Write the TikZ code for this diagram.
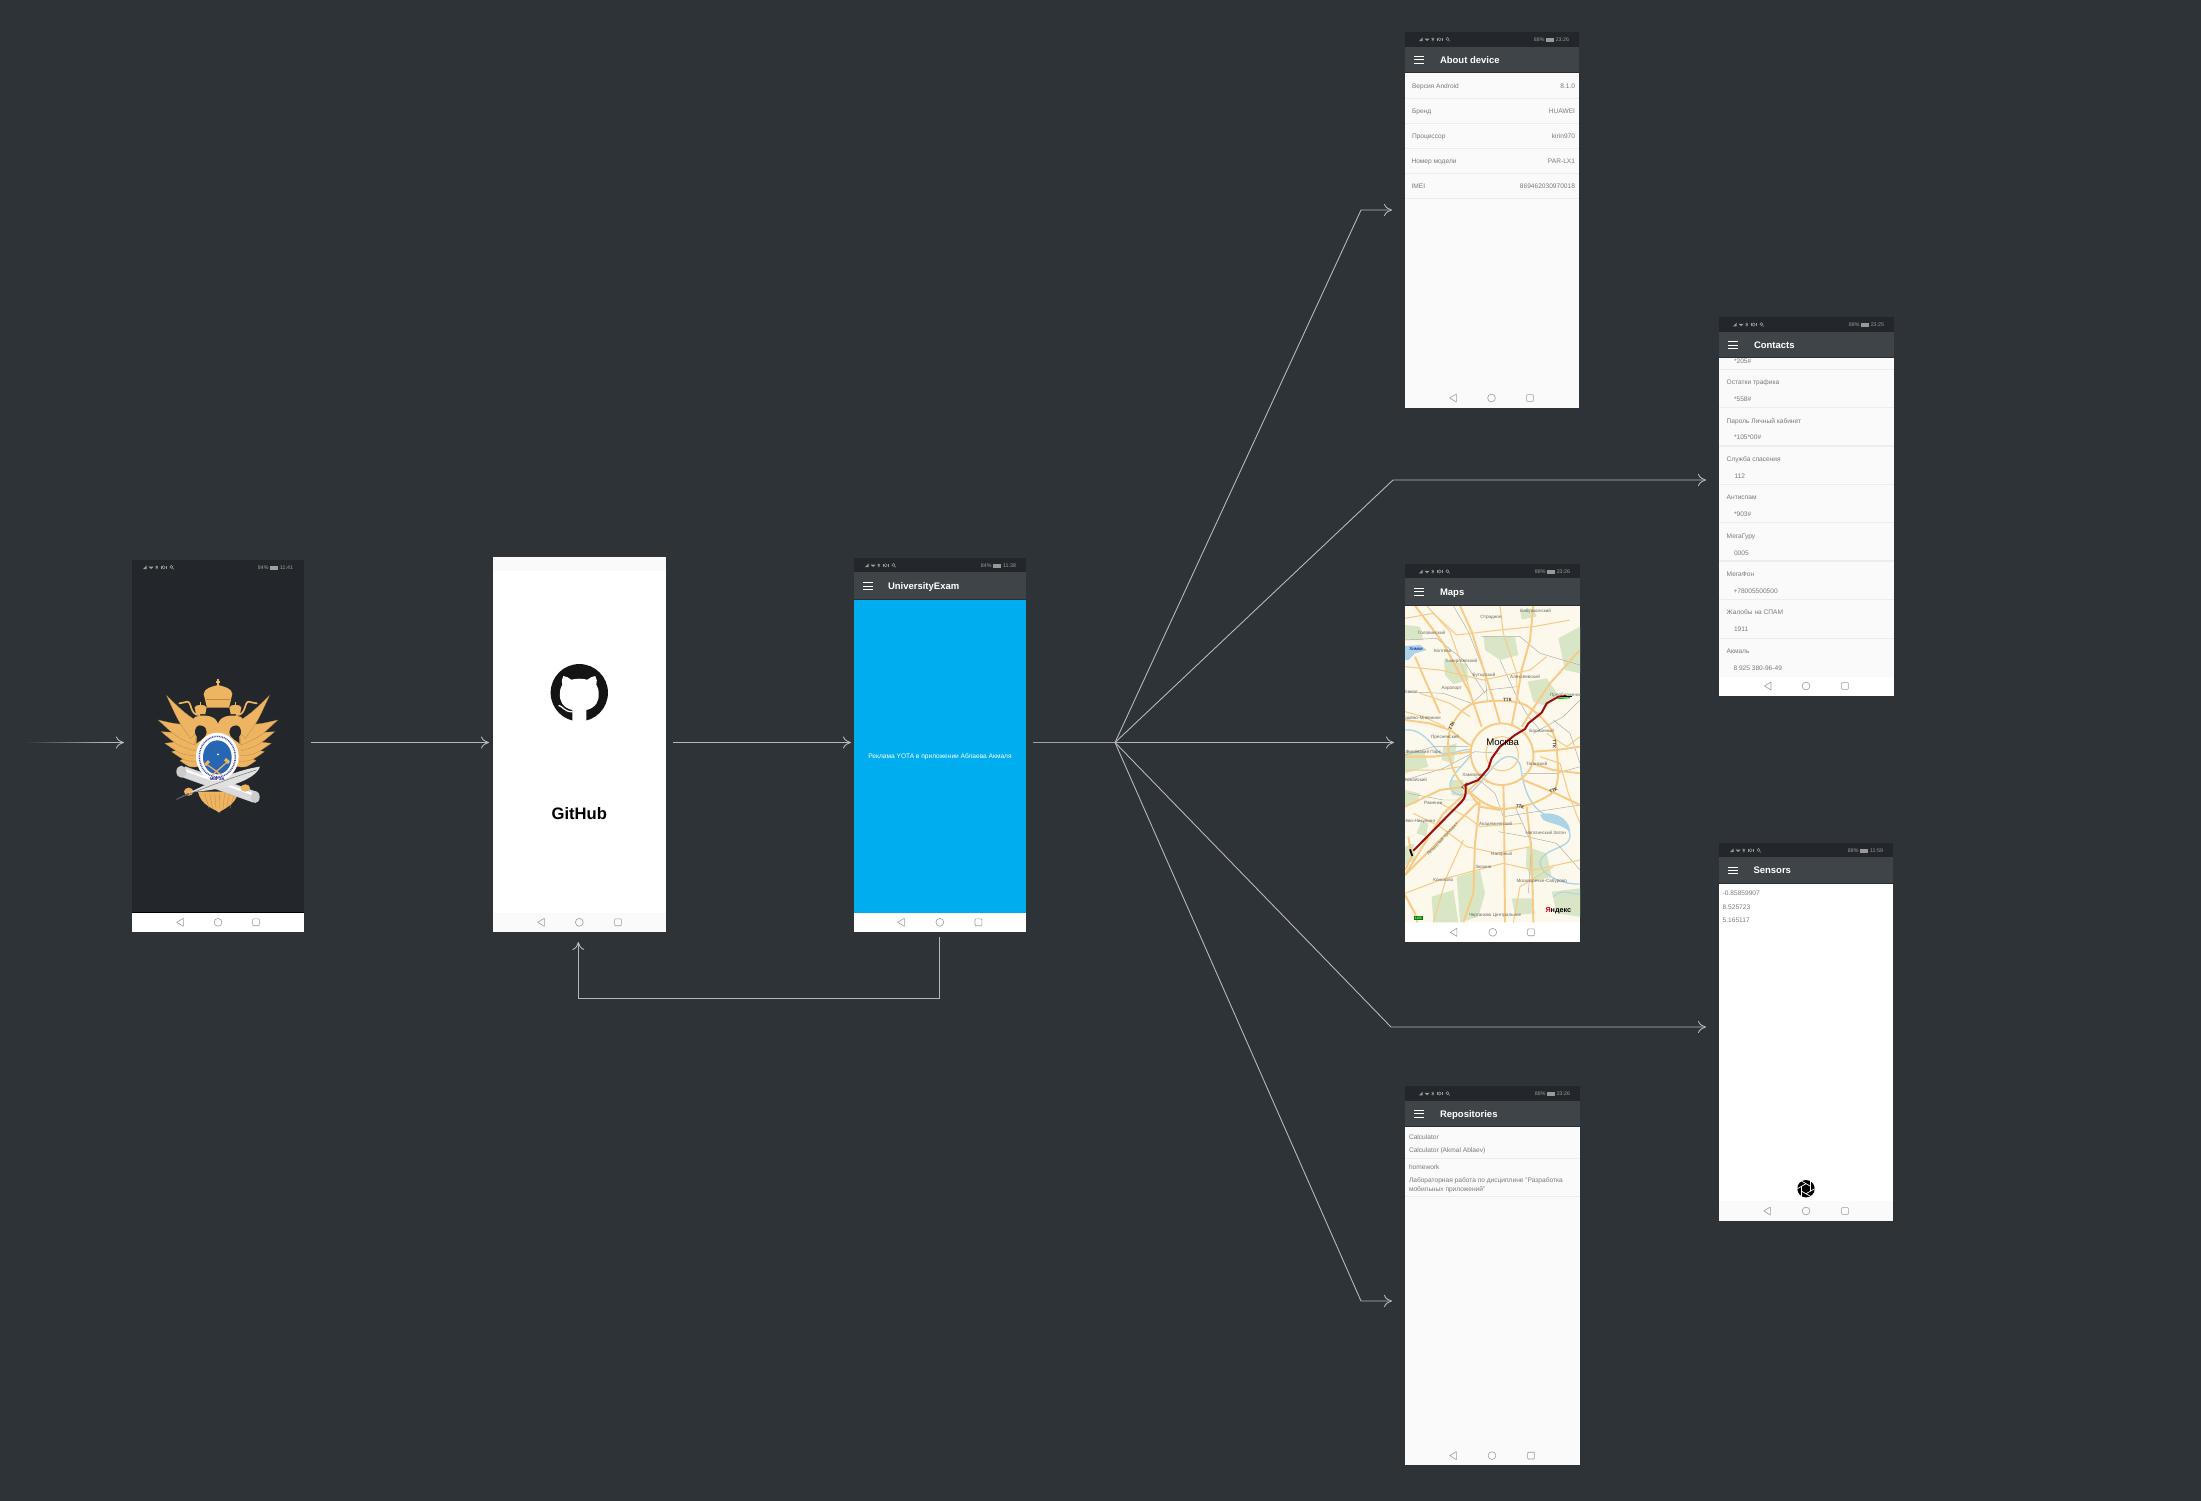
\documentclass[tikz,border=0pt]{standalone}
\usepackage{fontspec}
\setmainfont{Liberation Sans}
\usetikzlibrary{arrows.meta,calc}
\definecolor{bgc}{HTML}{2E3338}
\definecolor{linec}{HTML}{B4B8BA}
\definecolor{statc}{HTML}{23272B}
\definecolor{headc}{HTML}{3F4448}
\definecolor{headl}{HTML}{2A2E31}
\definecolor{txtc}{HTML}{7A7A7A}
\definecolor{sepc}{HTML}{EDEDED}
\definecolor{navc}{HTML}{9C9C9C}
\definecolor{pagec}{HTML}{FAFAFA}
\definecolor{bluec}{HTML}{00ADEE}
\definecolor{goldc}{HTML}{EDB562}
\definecolor{goldd}{HTML}{B98A45}
\definecolor{mapbg}{HTML}{FCF8EB}
\definecolor{mapgr}{HTML}{D9E6C6}
\definecolor{mapwa}{HTML}{ABD5E6}
\definecolor{maprd}{HTML}{F7CA85}
\definecolor{mapry}{HTML}{ABABA6}
\definecolor{mapla}{HTML}{6A6A66}
\tikzset{
  conn/.style={draw=linec,line width=.9pt,-{To[length=8pt,width=12pt,line width=.9pt]},line join=miter},
  scr/.style={anchor=north west,inner sep=0pt,outer sep=0pt,draw=none},
  txt/.style={anchor=west,inner sep=0pt,outer sep=0pt,text=txtc,text height=4.8pt,text depth=0pt,font=\fontsize{6.6}{7.5}\selectfont},
  titl/.style={anchor=west,inner sep=0pt,outer sep=0pt,text=white,text height=6.8pt,text depth=0pt,font=\fontsize{9.5}{11}\selectfont\bfseries},
  stxt/.style={inner sep=0pt,outer sep=0pt,text height=3.8pt,text depth=0pt,font=\fontsize{5.3}{6}\selectfont},
  mlab/.style={inner sep=0pt,outer sep=0pt,text=mapla,font=\fontsize{4.6}{5}\selectfont},
  mttk/.style={inner sep=0pt,outer sep=0pt,text=black!75,font=\fontsize{4.6}{5}\selectfont\bfseries},
  sepl/.style={draw=sepc,line width=.9pt},
  rd/.style={draw=maprd,line width=1.9pt,line join=round},
  rd2/.style={draw=maprd,line width=1pt,line join=round},
  ry/.style={draw=mapry,line width=.45pt},
  navd/.style={draw=navc,line width=.6pt},
}
\newcounter{lb}
\newcommand\lab[4][]{\stepcounter{lb}\node[txt,#1] (l\arabic{lb}) at (#2,#3) {#4};}
\newcommand\mlb[4][]{\stepcounter{lb}\node[mlab,#1] (l\arabic{lb}) at (#2,#3) {#4};}
\newcommand\mtt[4][]{\stepcounter{lb}\node[mttk,#1] (l\arabic{lb}) at (#2,#3) {#4};}
% name, x0, y0, x1, y1, fill
\newcommand\phonebox[6]{%
  \pgfmathsetmacro\pw{#4-#2}\pgfmathsetmacro\ph{#5-#3}%
  \node[scr,fill=#6,minimum width=\pw pt,minimum height=\ph pt] (#1) at (#2,#3) {};}
% x0, x1, ytop, ystat, yhead, title, hamburger x, title x
\newcommand\appbar[8]{%
  \fill[statc] (#1,#3) rectangle (#2,#4);
  \fill[headc] (#1,#4) rectangle (#2,#5);
  \draw[headl,line width=.9pt] (#1,#5-.4) -- (#2,#5-.4);
  \pgfmathsetmacro\hy{(#4+#5)/2}%
  \foreach \dy in {-3.3,0,3.3}{\draw[white,line width=.9pt] (#7,\hy+\dy) -- (#7+9.5,\hy+\dy);}
  \stepcounter{lb}\node[titl] (l\arabic{lb}) at (#8,\hy) {#6};}
% icons x0, right end, y, pct, time, colour
\newcommand\statline[6]{%
  \begin{scope}[shift={(#1,#3)},#6,line width=.45pt]
    \fill (0,1.8) -- (3.6,1.8) -- (3.6,-1.8) -- cycle;
    \draw (6,-.6) arc [start angle=150,end angle=30,radius=2.4];
    \fill (8.1,1.8) -- (6,-.6) -- (10.2,-.6) -- cycle;
    \draw (13.8,-2) -- (13.8,2) (12.6,-.9) -- (15,.9) (12.6,.9) -- (15,-.9);
    \draw (20.6,0) circle [radius=1.6];
    \draw (17.8,-1.4) -- (17.8,1.4) (23.4,-1.4) -- (23.4,1.4);
    \draw (28.4,-.4) circle [radius=1.5];
    \draw (29.5,.7) -- (31,2.1);
  \end{scope}
  \stepcounter{lb}\node[stxt,anchor=east,text=#6] (l\arabic{lb}) at (#2,#3) {#5};
  \draw[#6,line width=.5pt,fill=#6] (#2-23,#3-1.5) rectangle (#2-15.5,#3+1.5);
  \stepcounter{lb}\node[stxt,anchor=east,text=#6] (l\arabic{lb}) at (#2-24.5,#3) {#4};}
% x1,x2,x3,y
\newcommand\navbtns[4]{%
  \draw[navd,line join=round] (#1+3.3,#4-4) -- (#1-3.3,#4) -- (#1+3.3,#4+4) -- cycle;
  \draw[navd] (#2,#4) circle [radius=3.9];
  \draw[navd,rounded corners=.8pt] (#3-3.4,#4-3.4) rectangle (#3+3.4,#4+3.4);}
\begin{document}
\begin{tikzpicture}[x=1pt,y=-1pt]
\useasboundingbox (0,0) rectangle (2201,1500);
\fill[bgc] (-3,-3) rectangle (2204,1503);

%% ---------- phone 1 : emblem
\phonebox{splash}{132}{560}{304}{932}{statc}
\fill[black] (132,912) rectangle (304,913);
\fill[white] (132,913) rectangle (304,932);
\statline{143}{293}{567.3}{84\%}{11:41}{gray!75}
\navbtns{180}{218}{256}{922.3}
\begin{scope}[shift={(120,550)},x=.33333pt,y=-.33333pt]
 \begin{scope}[shift={(294,0)}]
  % tail
  \fill[goldc] (-60,725) .. controls (-50,770) and (-10,775) .. (3,788) .. controls (15,775) and (50,770) .. (62,725) -- cycle;
  \foreach \q in {-40,-25,-10,5,20,35,50}{\draw[goldd,line width=.3pt] (\q,730) -- (\q*.7+1,775);}
  \foreach \s in {1,-1}{
   \begin{scope}[xscale=\s]
    \foreach \tx/\ty/\ux/\uy/\lx/\ly in {114/632/70/590/50/648,139/605/70/570/58/634,159/580/65/550/65/618,170/545/60/535/70/602,179/510/60/520/70/585,154/437/45/525/82/566}{
      \fill[goldc,draw=goldd,line width=.3pt] (\lx,\ly) .. controls ($(\lx,\ly)!.5!(\tx,\ty)+(0,14)$) .. (\tx,\ty) .. controls ($(\ux,\uy)!.5!(\tx,\ty)+(0,9)$) .. (\ux,\uy) -- cycle;
    }
    \fill[statc] (54,545) ellipse [x radius=15,y radius=19];
    % neck and head
    \fill[goldc] (0,630) -- (0,522) .. controls (5,500) and (30,495) .. (55,497) .. controls (75,498) and (84,515) .. (66,524) .. controls (55,524) and (34,525) .. (34,545) .. controls (35,570) and (60,570) .. (72,590) -- (62,640) -- cycle;
    % ribbon to the beak
    \draw[goldc,line width=1.7pt,line cap=round] (55,495) .. controls (85,497) and (78,455) .. (92,455) .. controls (100,455) and (105,460) .. (116,460);
    % small crown
    \fill[goldc] (38,492) -- (34,472) .. controls (36,462) and (68,462) .. (70,472) -- (66,492) -- cycle;
    \draw[goldc,line width=.8pt] (52,465) -- (52,456);
   \end{scope}
  }
  % big crown
  \fill[goldc] (-33,473) -- (-43,432) .. controls (-42,415) and (-20,410) .. (0,405) .. controls (20,410) and (42,415) .. (43,432) -- (33,473) -- cycle;
  \draw[goldd,line width=.3pt] (-36,448) -- (36,448);
  \draw[goldc,line width=1.1pt] (0,408) -- (0,388) (-6,396) -- (6,396);
  \fill[statc] (0,474) -- (20,492) -- (0,516) -- (-20,492) -- cycle;
  % scroll
  \draw[gray!55,line width=11.4pt] (-104,665) -- (112,742);
  \draw[black!14,line width=10.4pt] (-104,665) -- (112,742);
  \draw[white,line width=2.2pt] (-100,660) -- (108,734);
  \fill[black!20] (-110,665) ellipse [x radius=15,y radius=18];
  \fill[black!20] (112,741) ellipse [x radius=13,y radius=18];
  % claws
  \fill[goldc] (-88,725) ellipse [x radius=14,y radius=12];
  \fill[goldc] (82,714) ellipse [x radius=14,y radius=11];
  % quill
  \fill[black!12] (-124,748) .. controls (-50,708) and (50,660) .. (126,650) .. controls (112,692) and (10,722) .. (-84,726) -- cycle;
  \draw[black!55,line width=.5pt] (-124,748) .. controls (-40,712) and (50,680) .. (115,660);
  \draw[black!65,line width=.9pt] (-124,748) -- (-88,730);
  % medallion
  \fill[white] (-2,620) ellipse [x radius=64,y radius=72];
  \draw[black!45!blue!70,line width=1.5pt,dash pattern=on .9pt off .8pt] (-2,620) ellipse [x radius=54,y radius=61];
  \fill[blue!55!cyan!65!black!85] (-2,622) ellipse [x radius=43,y radius=51];
  \fill[white] (0,613) circle [radius=3];
  \draw[goldc,line width=1.2pt] (-38,640) -- (12,676) (32,632) -- (-18,676);
  \fill[goldc] (-42,642) -- (-30,630) -- (-24,636) -- (-36,648) -- cycle;
  \fill[goldc] (36,634) -- (24,624) -- (18,631) -- (30,642) -- cycle;
  \stepcounter{lb}\node[inner sep=0pt,text=blue!50!black,font=\fontsize{4}{4}\selectfont\bfseries] (l\arabic{lb}) at (-2,687) {МИРЭА};
 \end{scope}
\end{scope}

%% ---------- phone 2 : GitHub
\phonebox{github}{493}{557}{666}{932}{white}
\fill[pagec] (493,557) rectangle (666,571);
\fill[pagec] (493,913) rectangle (666,932);
\navbtns{541}{579.3}{618}{922.3}
\begin{scope}[shift={(579.3,692.7)},x=.33333pt,y=-.33333pt]
  \fill[black!92] (0,0) circle [radius=86];
  \fill[white] (-21,90) -- (-21,52) .. controls (-50,45) and (-60,25) .. (-58,2) .. controls (-58,-10) and (-55,-18) .. (-51,-24) .. controls (-54,-32) and (-53,-42) .. (-48,-50) .. controls (-40,-50) and (-30,-44) .. (-24,-39) .. controls (-10,-43) and (10,-43) .. (24,-39) .. controls (30,-44) and (40,-50) .. (48,-50) .. controls (53,-42) and (54,-32) .. (51,-24) .. controls (55,-18) and (58,-10) .. (58,2) .. controls (60,25) and (50,45) .. (21,52) -- (21,90) -- cycle;
  \draw[white,line width=1.3pt] (-62,38) .. controls (-50,40) and (-45,58) .. (-21,57);
\end{scope}
\node[inner sep=0pt,text=black,font=\fontsize{16.6}{18}\selectfont\bfseries] (githubname) at (579.3,813.5) {GitHub};

%% ---------- phone 3 : main
\phonebox{mainscr}{854}{558}{1026}{932}{white}
\fill[bluec] (854,600) rectangle (1026,913);
\appbar{854}{1026}{558}{572}{600}{UniversityExam}{863}{888}
\statline{865}{1016}{565.3}{84\%}{11:38}{gray!80}
\navbtns{901}{939.8}{978.4}{922.3}
\node[inner sep=0pt,text=white,text height=4.8pt,text depth=0pt,font=\fontsize{6.6}{7}\selectfont] (adtext) at (940,756.3) {Реклама YOTA в приложении Аблаева Акмаля};

%% ---------- about device
\phonebox{about}{1405}{32}{1579}{408}{pagec}
\appbar{1405}{1579}{32}{46.7}{73}{About device}{1414}{1440}
\statline{1419}{1569}{39.3}{88\%}{23:26}{gray!80}
\foreach \yy in {98.3,123.3,148.3,173.3,198.3}{\draw[sepl] (1405,\yy) -- (1579,\yy);}
\lab{1412}{86}{Версия Android}
\lab{1412}{111}{Бренд}
\lab{1412}{136}{Процессор}
\lab{1411.5}{161}{Номер модели}
\lab{1411.5}{186}{IMEI}
\lab[anchor=east]{1575}{86}{8.1.0}
\lab[anchor=east]{1575}{111}{HUAWEI}
\lab[anchor=east]{1575}{136}{kirin970}
\lab[anchor=east]{1575}{161}{PAR-LX1}
\lab[anchor=east]{1575}{186}{869462030970018}
\navbtns{1453}{1491.5}{1530}{398}

%% ---------- contacts
\phonebox{contacts}{1719}{317}{1894}{696}{pagec}
\lab{1734}{360.7}{*205\#}
\appbar{1719}{1894}{317}{332}{358}{Contacts}{1728}{1754}
\statline{1733}{1884}{324.5}{88\%}{23:25}{gray!80}
\foreach \yy in {369.3,407.7,446,484.3,522.7,561,599.3,638.3}{\draw[sepl,line width=1.2pt] (1719,\yy) -- (1894,\yy);}
\lab{1726.7}{382.3}{Остатки трафика}
\lab{1734}{399}{*558\#}
\lab{1726.7}{420.7}{Пароль Личный кабинет}
\lab{1734}{437.3}{*105*00\#}
\lab{1726.7}{459}{Служба спасения}
\lab{1734.5}{476}{112}
\lab{1726.7}{497.3}{Антиспам}
\lab{1734}{514}{*903\#}
\lab{1726.7}{535.7}{МегаГуру}
\lab{1734}{552.7}{0005}
\lab{1726.7}{574}{МегаФон}
\lab{1733.5}{591}{+78005500500}
\lab{1726.7}{612.3}{Жалобы на СПАМ}
\lab{1734}{629.3}{1911}
\lab{1726.7}{651}{Акмаль}
\lab{1733.5}{668}{8 925 380-96-49}
\fill[white] (1719,676.7) rectangle (1894,696);
\navbtns{1767.7}{1806}{1845}{686}

%% ---------- maps
\phonebox{maps}{1405}{564}{1580}{942}{white}
\begin{scope}
 \clip (1405,605.5) rectangle (1580,922.3);
 \begin{scope}[shift={(1400,560)},x=.33333pt,y=-.33333pt]
  \fill[mapbg] (15,137) rectangle (540,1087);
  % greens
  \fill[mapgr] (250,228) -- (345,232) -- (355,285) -- (300,300) -- (255,270) -- cycle;
  \fill[mapgr] (132,300) -- (200,312) -- (205,360) -- (160,372) -- (135,345) -- cycle;
  \fill[mapgr] (383,365) -- (440,355) -- (472,400) -- (440,440) -- (400,425) -- cycle;
  \fill[mapgr] (475,235) -- (540,200) -- (540,340) -- (495,330) -- cycle;
  \fill[mapgr] (360,150) -- (400,145) -- (410,170) -- (365,178) -- cycle;
  \fill[mapgr] (15,195) -- (60,200) -- (70,240) -- (15,240) -- cycle;
  \fill[mapgr] (15,575) -- (70,570) -- (85,620) -- (15,640) -- cycle;
  \fill[mapgr] (130,560) -- (170,550) -- (160,610) -- (125,600) -- cycle;
  \fill[mapgr] (65,780) -- (85,790) -- (78,830) -- (50,820) -- cycle;
  \fill[mapgr] (15,690) -- (60,700) -- (50,730) -- (15,735) -- cycle;
  \fill[mapgr] (170,950) -- (240,930) -- (255,1000) -- (235,1070) -- (180,1087) -- cycle;
  \fill[mapgr] (95,1010) -- (160,990) -- (175,1087) -- (100,1087) -- cycle;
  \fill[mapgr] (380,860) -- (440,880) -- (455,950) -- (400,965) -- (378,920) -- cycle;
  \fill[mapgr] (455,995) -- (540,985) -- (540,1070) -- (470,1060) -- cycle;
  \fill[mapgr] (335,1015) -- (395,1015) -- (405,1060) -- (345,1065) -- cycle;
  \fill[mapgr] (150,660) -- (190,660) -- (190,710) -- (155,705) -- cycle;
  \fill[mapgr] (15,860) -- (40,850) -- (45,900) -- (15,915) -- cycle;
  % water
  \fill[mapwa] (15,258) -- (60,255) -- (80,270) -- (45,280) -- (25,300) -- (15,300) -- cycle;
  \draw[mapwa,line width=1.3pt,line join=round] (15,510) .. controls (50,505) and (80,530) .. (110,570) .. controls (130,600) and (195,560) .. (212,570) .. controls (225,590) and (160,630) .. (150,670) .. controls (145,700) and (185,715) .. (215,695) .. controls (245,670) and (270,625) .. (300,600) .. controls (325,580) and (355,590) .. (362,620) .. controls (370,680) and (385,725) .. (420,755) .. controls (450,775) and (510,780) .. (510,830) .. controls (510,865) and (430,865) .. (420,905) .. controls (420,950) and (500,975) .. (540,972);
  \fill[mapwa] (420,765) .. controls (450,750) and (510,770) .. (510,815) .. controls (480,790) and (445,790) .. (430,780) -- cycle;
  \draw[mapwa,line width=1pt] (460,1010) .. controls (490,980) and (520,1010) .. (540,1000);
  % railways
  \draw[ry] (15,240) -- (110,235) -- (190,300) -- (255,400);
  \draw[ry] (160,137) -- (205,215) -- (255,340) -- (262,420);
  \draw[ry] (245,230) -- (360,230) -- (420,280) -- (540,315);
  \draw[ry] (300,300) -- (350,410) -- (385,470) -- (420,510);
  \draw[ry] (15,395) -- (130,400) -- (215,430) -- (260,390) -- (350,380);
  \draw[ry] (15,585) -- (100,560) -- (205,560) ;
  \draw[ry] (15,660) -- (130,625) -- (225,575) -- (300,580);
  \draw[ry] (225,650) -- (285,700) -- (310,770) -- (540,735);
  \draw[ry] (370,640) -- (470,640) -- (540,620);
  \draw[ry] (400,520) -- (490,470) -- (540,420);
  \draw[ry] (460,480) -- (510,520) -- (540,610);
  \draw[ry] (295,815) -- (380,830) -- (470,850) -- (540,930);
  \draw[ry] (345,740) -- (395,850) -- (385,1000);
  \draw[ry] (25,700) -- (130,720) -- (240,720);
  % minor roads
  \draw[rd2] (15,175) -- (100,160) -- (170,225) -- (300,210) -- (400,200) -- (510,180);
  \draw[rd2] (80,137) -- (150,215) -- (190,330) -- (215,410);
  \draw[rd2] (300,137) -- (310,220) -- (350,340) -- (352,420);
  \draw[rd2] (15,320) -- (120,330) -- (250,360) -- (390,330) -- (440,290);
  \draw[rd2] (60,400) -- (150,430) -- (210,470) ;
  \draw[rd2] (15,455) -- (70,470) -- (135,500);
  \draw[rd2] (15,630) -- (120,630) -- (180,620);
  \draw[rd2] (40,760) -- (120,800) -- (200,860) -- (290,880) -- (390,860);
  \draw[rd2] (120,730) -- (200,770) -- (240,800) -- (370,790);
  \draw[rd2] (15,1000) -- (120,960) -- (230,930) -- (310,910) -- (400,930) -- (540,900);
  \draw[rd2] (100,1087) -- (140,950) -- (190,840);
  \draw[rd2] (440,520) -- (500,560) -- (540,530);
  \draw[rd2] (420,590) -- (480,610) -- (505,700) -- (540,790);
  \draw[rd2] (340,1087) -- (360,980) -- (460,920);
  % major roads
  \draw[rd] (215,432) .. controls (260,420) and (350,415) .. (385,440) .. controls (430,475) and (470,510) .. (470,570) .. controls (475,620) and (480,665) .. (460,697) .. controls (420,725) and (380,740) .. (330,745) .. controls (280,755) and (230,720) .. (195,680) .. controls (150,640) and (135,560) .. (150,510) .. controls (165,470) and (190,445) .. (215,432);
  \draw[rd] (305,490) .. controls (260,490) and (215,525) .. (212,575) .. controls (210,630) and (255,675) .. (305,675) .. controls (360,675) and (405,630) .. (400,580) .. controls (395,525) and (350,490) .. (305,490);
  \draw[rd2,line width=1pt] (305,530) .. controls (280,530) and (255,555) .. (258,585) .. controls (260,615) and (285,635) .. (310,632) .. controls (340,630) and (358,605) .. (355,580) .. controls (350,550) and (330,530) .. (305,530);
  \draw[rd] (45,290) -- (75,360) -- (120,460);
  \draw[rd] (180,137) -- (215,215) -- (280,420) -- (300,490);
  \draw[rd] (400,137) -- (390,240) -- (365,330) -- (350,420) -- (335,495);
  \draw[rd] (540,270) -- (450,370) -- (400,445) -- (365,500);
  \draw[rd] (45,137) -- (130,250) -- (210,400) -- (245,500);
  \draw[rd] (15,480) -- (90,490) -- (150,510) -- (215,560);
  \draw[rd] (15,590) -- (100,590) -- (212,575);
  \draw[rd] (400,575) -- (470,570) -- (540,560);
  \draw[rd] (395,610) -- (460,630) -- (540,640);
  \draw[rd] (370,660) -- (460,697) -- (540,735);
  \draw[rd] (240,660) -- (130,760) -- (15,945);
  \draw[rd] (235,725) -- (120,840) -- (15,945);
  \draw[rd] (310,675) -- (312,750) -- (315,1087);
  \draw[rd] (240,720) -- (225,850) -- (220,1000) -- (190,1087);
  \draw[rd] (380,740) -- (395,880) -- (400,1087);
  \draw[rd] (15,740) -- (120,690) -- (195,680);
  \draw[rd] (15,1005) -- (45,1060) -- (52,1087);
  \draw[rd] (195,680) -- (240,740) -- (300,750);
  \draw[rd] (15,930) -- (35,890) -- (25,830);
  % labels
  \mlb{407}{155}{Бабушкинский}
  \mlb{273}{172}{Отрадное}
  \mlb{95}{217}{Головинский}
  \mlb{128}{272}{Коптево}
  \mlb{183}{303}{Тимирязевский}
  \mlb{252}{345}{Бутырский}
  \mlb{375}{350}{Алексеевский}
  \mlb{155}{384}{Аэропорт}
  \mlb{33}{395}{Сокол}
  \mlb{55}{476}{Хорошёво-Мневники}
  \mlb{135}{533}{Пресненский}
  \mlb{70}{577}{Филёвский Парк}
  \mlb{222}{645}{Хамовники}
  \mlb{45}{660}{Можайский}
  \mlb{100}{730}{Раменки}
  \mlb{38}{785}{Тропарёво-Никулино}
  \mlb{287}{792}{Академический}
  \mlb{305}{883}{Нагорный}
  \mlb{250}{920}{Зюзино}
  \mlb{130}{960}{Коньково}
  \mlb{425}{965}{Москворечье-Сабурово}
  \mlb{437}{818}{Нагатинский Затон}
  \mlb{410}{612}{Таганский}
  \mlb{425}{512}{Басманный}
  \mlb{505}{405}{Преображенское}
  \mlb{285}{1065}{Чертаново Центральное}
  \mlb[text=blue!60!black]{48}{267}{Химки}
  \mlb[rotate=47]{128}{838}{Ленинский проспект}
  \mtt{322}{420}{ТТК}
  \mtt[rotate=62]{155}{497}{ТТК}
  \mtt[rotate=40]{195}{680}{ТТК}
  \mtt[rotate=-90]{463}{552}{ТТК}
  \mtt[rotate=27]{460}{692}{ТТК}
  \mtt[rotate=-15]{360}{740}{ТТК}
  % route
  \draw[red!60!black!95,line width=2pt,line join=round] (40,872) -- (185,725) .. controls (197,712) and (197,700) .. (197,690) -- (197,675) -- (235,660) -- (265,625) -- (275,595) -- (300,560) -- (345,525) -- (375,507) -- (385,490) -- (425,458) -- (440,430) -- (475,410) -- (500,408);
  \draw[green!80!black,line width=1.1pt] (472,416) -- (510,413);
  \draw[black,line width=1pt] (480,408) -- (515,408);
  \draw[black,line width=1.8pt] (30,868) -- (37,888);
  % name and logo
  \stepcounter{lb}\node[inner sep=0pt,font=\fontsize{9.6}{10}\selectfont] (l\arabic{lb}) at (308,547) {Москва};
  \stepcounter{lb}\node[inner sep=0pt,font=\fontsize{7.2}{8}\selectfont\bfseries] (l\arabic{lb}) at (475,1052) {\textcolor{red!85!black}{Я}ндекс};
  \stepcounter{lb}\node[inner sep=.6pt,fill=green!50!black,text=white,font=\fontsize{3.4}{4}\selectfont] (l\arabic{lb}) at (55,1074) {1195};
 \end{scope}
\end{scope}
\appbar{1405}{1580}{564}{578}{605.5}{Maps}{1414}{1440}
\statline{1419}{1570}{571.5}{88\%}{23:26}{gray!80}
\navbtns{1453.5}{1492.7}{1531}{932.3}

%% ---------- sensors
\phonebox{sensors}{1719}{843}{1893}{1221}{white}
\appbar{1719}{1893}{843}{857}{883.5}{Sensors}{1728}{1753.5}
\statline{1730}{1883}{850.3}{88\%}{11:59}{gray!80}
\lab{1722.7}{893.5}{-0.85859907}
\lab{1722.7}{906.7}{8.525723}
\lab{1722.7}{919.8}{5.165117}
\fill[pagec] (1719,1200.7) rectangle (1893,1221);
\navbtns{1767}{1806}{1845}{1211}
\fill[black] (1806,1188.7) circle [radius=8.7];
\foreach \aa in {0,60,120,180,240,300}{\draw[white,line width=.7pt] ($(1806,1188.7)+(\aa:8.7)$) -- ++(\aa+150:10);}

%% ---------- repositories
\phonebox{repos}{1405}{1086}{1580}{1465}{pagec}
\appbar{1405}{1580}{1086}{1100.7}{1127}{Repositories}{1414}{1440}
\statline{1419}{1570}{1093.5}{88\%}{23:26}{gray!80}
\lab{1409}{1136.7}{Calculator}
\lab{1409}{1149.7}{Calculator (Akmal Ablaev)}
\draw[sepl] (1405,1158.3) -- (1580,1158.3);
\lab{1409}{1167}{homework}
\lab{1409}{1180.3}{Лабораторная работа по дисциплине "Разработка}
\lab{1409}{1188.7}{мобильных приложений"}
\draw[sepl] (1405,1196.3) -- (1580,1196.3);
\navbtns{1453}{1492}{1531}{1455.6}

%% ---------- connectors
\coordinate (hub) at (1115,742.5);
\coordinate (fadeend) at (105,742.5);
\coordinate (fb) at (939,998);
\coordinate (j1) at (1361,210);
\coordinate (j2) at (1393,480);
\coordinate (j4) at (1391,1027);
\coordinate (j5) at (1361,1301);
\shade[left color=bgc,right color=linec] (25,742.05) rectangle (105,742.95);
\draw[conn,shorten >=8pt] (fadeend) -- (splash.west |- hub);
\draw[conn,shorten <=7pt,shorten >=4pt] (splash.east |- hub) -- (github.west |- hub);
\draw[conn,shorten <=7pt,shorten >=3pt] (github.east |- hub) -- (mainscr.west |- hub);
\draw[draw=linec!85!bgc,line width=.9pt,shorten <=7pt] (mainscr.east |- hub) -- (hub);
\draw[conn,shorten >=13pt] (hub) -- (j1) -- (about.west |- j1);
\draw[conn,shorten >=13pt] (hub) -- (j2) -- (contacts.west |- j2);
\draw[conn,shorten >=11pt] (hub) -- (maps.west |- hub);
\draw[conn,shorten >=13pt] (hub) -- (j4) -- (sensors.west |- j4);
\draw[conn,shorten >=13pt] (hub) -- (j5) -- (repos.west |- j5);
\draw[conn,shorten <=5pt,shorten >=10pt] (mainscr.south -| fb) -- (fb) -- ([xshift=-1.2pt]github.south |- fb) -- ([xshift=-1.2pt]github.south);
\end{tikzpicture}
\end{document}
